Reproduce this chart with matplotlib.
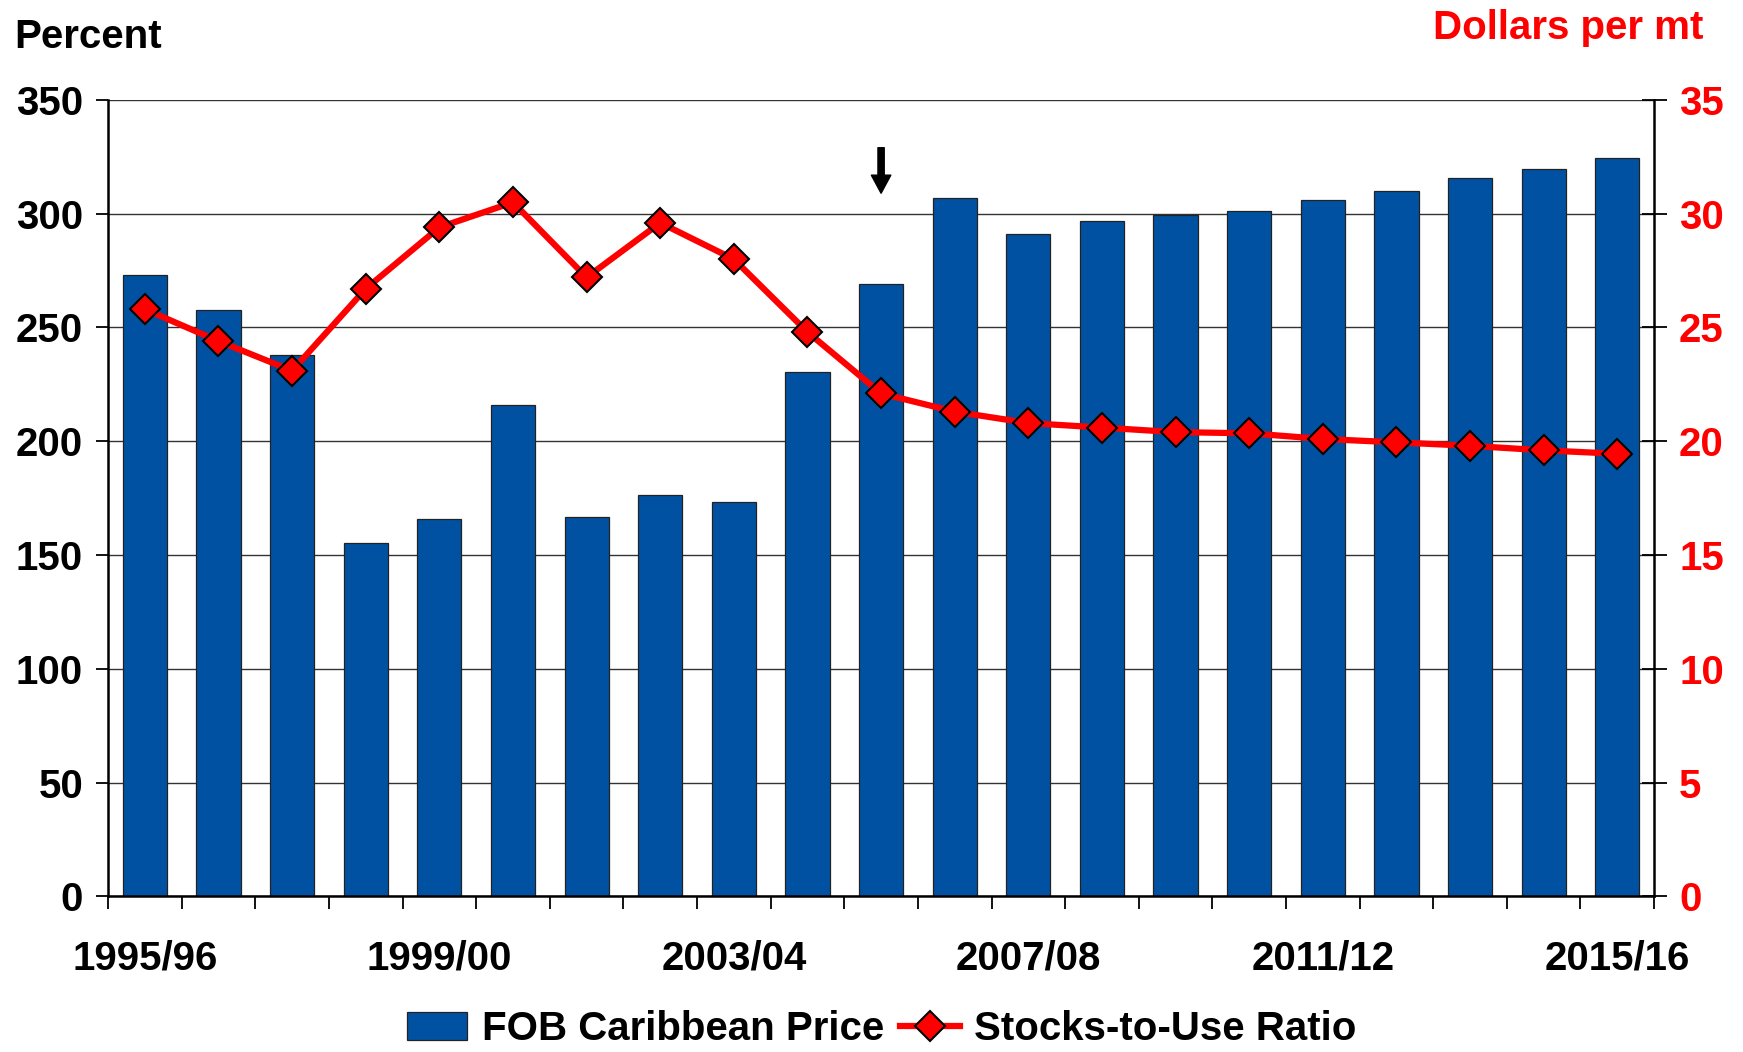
"""Sugar price bars with stocks-to-use ratio line on a secondary axis."""

import matplotlib
matplotlib.use("Agg")
import matplotlib.pyplot as plt
from matplotlib.patches import Patch
from matplotlib.lines import Line2D

seasons = [
    "1995/96", "1996/97", "1997/98", "1998/99", "1999/00", "2000/01", "2001/02",
    "2002/03", "2003/04", "2004/05", "2005/06", "2006/07", "2007/08", "2008/09",
    "2009/10", "2010/11", "2011/12", "2012/13", "2013/14", "2014/15", "2015/16",
]
fob_price = [
    273.0, 257.5, 237.7, 155.1, 165.8, 215.9, 166.6,
    176.5, 173.1, 230.5, 268.9, 306.7, 291.1, 296.9,
    299.3, 301.0, 305.9, 309.9, 315.6, 319.7, 324.7,
]
stocks_to_use = [
    25.8, 24.4, 23.1, 26.7, 29.4, 30.5, 27.2,
    29.6, 28.0, 24.8, 22.1, 21.3, 20.8, 20.6,
    20.4, 20.35, 20.1, 19.95, 19.8, 19.6, 19.45,
]
labeled_seasons = ["1995/96", "1999/00", "2003/04", "2007/08", "2011/12", "2015/16"]
arrow_season = "2005/06"

BLUE = "#0051A2"
RED = "#FF0000"
FONT = "Liberation Sans"
FS = 29

plt.rcParams["font.family"] = FONT
plt.rcParams["font.weight"] = "bold"

fig = plt.figure(figsize=(17.43, 10.52), dpi=100)
ax = fig.add_axes([0.062, 0.148, 0.887, 0.757])

x = list(range(len(seasons)))
ax.bar(x, fob_price, width=0.6, color=BLUE, edgecolor="#222222", linewidth=0.9, zorder=2)

ax.set_xlim(-0.5, len(seasons) - 0.5)
ax.set_ylim(0, 350)
ax.set_yticks(range(0, 351, 50))
ax.yaxis.grid(True, color="#333333", linewidth=1.0, zorder=0)
ax.set_axisbelow(True)

# category boundary ticks, labels every fourth season
ax.set_xticks([i - 0.5 for i in range(len(seasons) + 1)])
ax.set_xticklabels([])
ax.set_xticks([seasons.index(s) for s in labeled_seasons], minor=True)
ax.set_xticklabels(labeled_seasons, minor=True, fontsize=FS, fontweight="bold")
ax.tick_params(axis="x", which="major", length=9, width=1.3, direction="out")
ax.tick_params(axis="x", which="minor", length=0, pad=31)
ax.tick_params(axis="y", length=9, width=1.3, pad=9, labelsize=FS)
for lbl in ax.get_yticklabels():
    lbl.set_fontweight("bold")

for side in ["top", "right"]:
    ax.spines[side].set_visible(False)
for side in ["left", "bottom"]:
    ax.spines[side].set_linewidth(1.8)

ax2 = ax.twinx()
ax2.plot(x, stocks_to_use, color=RED, linewidth=4.5, marker="D", markersize=15,
         markerfacecolor=RED, markeredgecolor="black", markeredgewidth=1.5, zorder=3)
ax2.set_ylim(0, 35)
ax2.set_yticks(range(0, 36, 5))
ax2.tick_params(axis="y", length=18, width=1.3, direction="inout", pad=9,
                labelsize=FS, labelcolor=RED)
for lbl in ax2.get_yticklabels():
    lbl.set_fontweight("bold")
ax2.spines["right"].set_linewidth(1.8)
for side in ["top", "left", "bottom"]:
    ax2.spines[side].set_visible(False)

# marker over the 2005/06 bar
ai = seasons.index(arrow_season)
ax.annotate("", xy=(ai, 309), xytext=(ai, 329),
            arrowprops=dict(facecolor="black", edgecolor="black", width=4.5,
                            headwidth=14, headlength=13, shrink=0))

fig.text(0.008, 0.965, "Percent", fontsize=FS, fontweight="bold", ha="left", va="center")
fig.text(0.977, 0.973, "Dollars per mt", fontsize=FS, fontweight="bold", color=RED,
         ha="right", va="center")

handles = [
    Patch(facecolor=BLUE, edgecolor="#222222", linewidth=0.9),
    Line2D([0], [0], color=RED, linewidth=4.5, marker="D", markersize=15,
           markerfacecolor=RED, markeredgecolor="black", markeredgewidth=1.5),
]
fig.legend(handles, ["FOB Caribbean Price", "Stocks-to-Use Ratio"], loc="center",
           bbox_to_anchor=(0.506, 0.022), ncol=2, frameon=False,
           handlelength=1.5, handletextpad=0.35, columnspacing=0.4,
           prop={"family": FONT, "weight": "bold", "size": FS})

fig.savefig("out.png", dpi=100)
